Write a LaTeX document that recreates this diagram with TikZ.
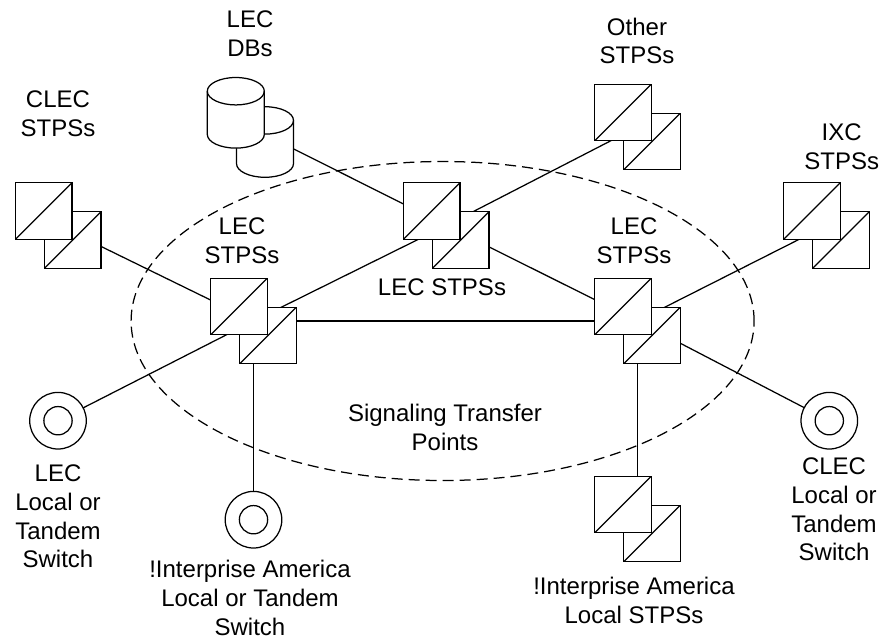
\documentclass[tikz,border=0pt]{standalone}
\usepackage{fontspec}
\setmainfont{Liberation Sans}
\usetikzlibrary{backgrounds,shapes.geometric}
\tikzset{
  every picture/.style={x=1pt,y=-1pt,line width=1.25pt},
  stpbox/.style={draw,fill=white,rectangle,minimum size=56.6pt,inner sep=0pt,outer sep=0pt,
    path picture={\draw (path picture bounding box.south west) -- (path picture bounding box.north east);}},
  link/.style={draw,line width=1.25pt},
  sw/.style={draw,fill=white,circle,minimum size=56.6pt,inner sep=0pt,outer sep=0pt},
  swin/.style={draw,circle,minimum size=28.3pt,inner sep=0pt,outer sep=0pt},
  lbl/.style={align=center,inner sep=0pt,font=\fontsize{24}{28.8}\selectfont},
  ring/.style={draw,dash pattern=on 11pt off 6pt,ellipse,minimum width=623pt,minimum height=319pt,inner sep=0pt},
  cyl/.style={draw,fill=white,line join=round}
}
\newcommand{\stppair}[3]{%
  \coordinate (#1) at (#2,#3);
  \node[stpbox] (#1b) at (#2+14.5,#3+14.5) {};
  \node[stpbox] (#1f) at (#2-14.5,#3-14.5) {};
}
\newcommand{\switchsym}[3]{%
  \node[sw] (#1) at (#2,#3) {};
  \node[swin] (#1i) at (#2,#3) {};
}
\newcommand{\dbcyl}[2]{%
  \path[cyl] (#1-28.5,#2-21.6) arc[start angle=180,end angle=0,x radius=28.5,y radius=-13.7]
    -- (#1+28.5,#2+21.6) arc[start angle=0,end angle=-180,x radius=28.5,y radius=-13.7] -- cycle;
  \path[draw] (#1-28.5,#2-21.6) arc[start angle=180,end angle=360,x radius=28.5,y radius=-13.7];
}
\begin{document}
\begin{tikzpicture}
\useasboundingbox (0,0) rectangle (880,638);
\node[ring] (ringnode) at (442.6,321) {};
\stppair{clec}{58.25}{225.5}
\stppair{left}{253.5}{321}
\stppair{mid}{446.25}{225.5}
\stppair{other}{637.5}{127}
\stppair{right}{637.5}{321}
\stppair{ixc}{826.5}{225.5}
\stppair{ent}{637.5}{519}
\switchsym{swa}{58}{420.7}
\switchsym{swb}{253.5}{519.7}
\switchsym{swc}{829.3}{420.7}
\coordinate (db) at (250,127);
\dbcyl{265}{142}
\dbcyl{235.8}{112.8}
\begin{pgfonlayer}{background}
\path[link] (db) -- (mid);
\path[link] (clec) -- (left);
\path[link] (mid) -- (left);
\path[link] (left) -- (right);
\path[link] (mid) -- (right);
\path[link] (mid) -- (other);
\path[link] (right) -- (ixc);
\path[link] (left) -- (swa);
\path[link] (left) -- (swb);
\path[link] (right) -- (swc);
\path[link] (right) -- (ent);
\end{pgfonlayer}
\node[lbl] (t1) at (250,34) {LEC\\DBs};
\node[lbl] (t2) at (58,114) {CLEC\\STPSs};
\node[lbl] (t3) at (242,240.5) {LEC\\STPSs};
\node[lbl] (t4) at (442,287) {LEC STPSs};
\node[lbl] (t5) at (637,41) {Other\\STPSs};
\node[lbl] (t6) at (841.7,146.5) {IXC\\STPSs};
\node[lbl] (t7) at (634,240.5) {LEC\\STPSs};
\node[lbl] (t8) at (445,427.5) {Signaling Transfer\\Points};
\node[lbl] (t9) at (58,516.5) {LEC\\Local or\\Tandem\\Switch};
\node[lbl] (t10) at (250,598) {!Interprise America\\Local or Tandem\\Switch};
\node[lbl] (t11) at (834,509.5) {CLEC\\Local or\\Tandem\\Switch};
\node[lbl] (t12) at (634,600.5) {!Interprise America\\Local STPSs};
\end{tikzpicture}
\end{document}
